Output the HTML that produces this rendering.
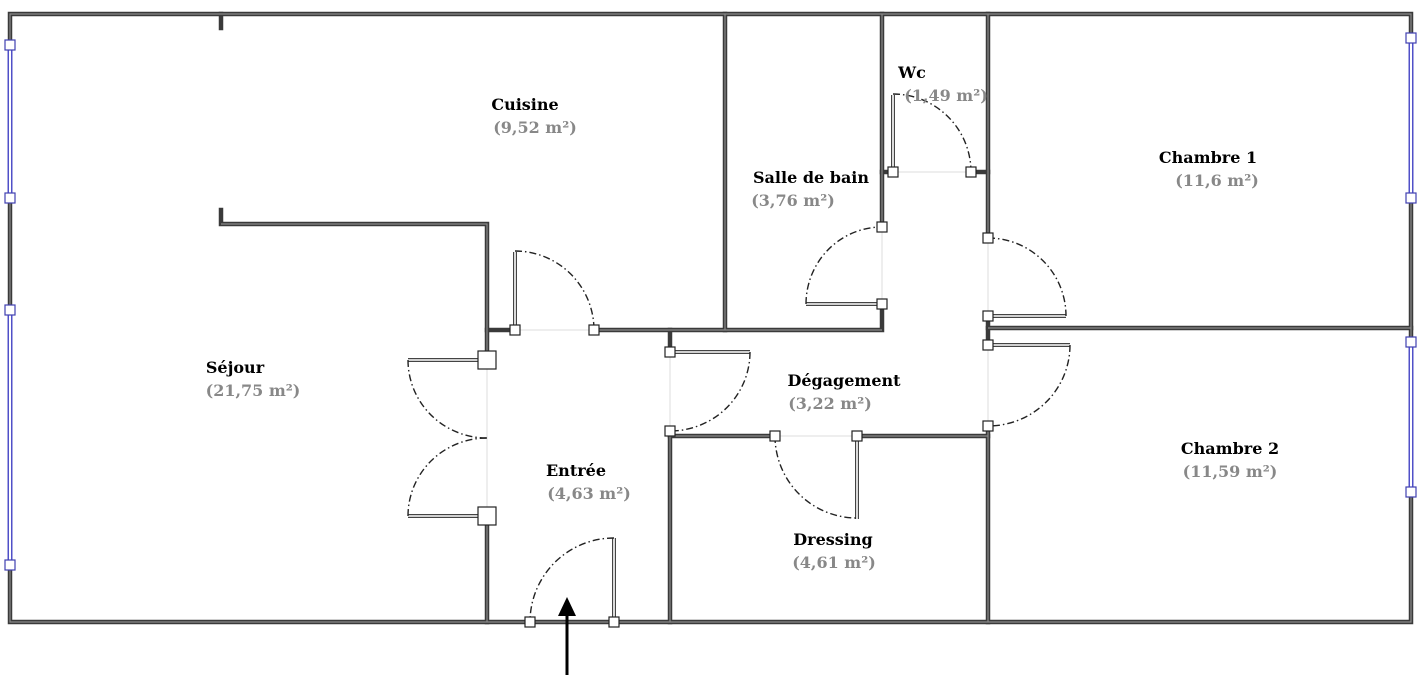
<!DOCTYPE html>
<html><head><meta charset="utf-8"><style>
html,body{margin:0;padding:0;background:#fff;}
svg{display:block;}
.w{stroke:#3a3a3a;stroke-width:4.5;fill:none;stroke-linecap:square;}
.wi{stroke:#8a8a8a;stroke-width:1.2;fill:none;}
.leaf{stroke:#444;stroke-width:4;fill:none;}
.leafi{stroke:#fff;stroke-width:1.6;fill:none;}
.arc{stroke:#222;stroke-width:1.4;fill:none;stroke-dasharray:7 3 1.5 3;}
.op{stroke:#ddd;stroke-width:1;fill:none;}
.sq{fill:#fff;stroke:#222;stroke-width:1.2;}
.bsq{fill:#fff;stroke:#4040b0;stroke-width:1.2;}
.win{stroke:#5050c8;stroke-width:5;fill:none;}
.wini{stroke:#fff;stroke-width:2;fill:none;}
text{font-family:"DejaVu Serif","Liberation Serif",serif;font-weight:bold;font-size:16px;text-anchor:middle;}
.a{fill:#888;}
</style></head><body>
<svg width="1426" height="678" viewBox="0 0 1426 678" xmlns="http://www.w3.org/2000/svg">
<g class="op">
<line x1="515" y1="330" x2="594" y2="330"/>
<line x1="487" y1="360" x2="487" y2="516"/>
<line x1="670" y1="352" x2="670" y2="431"/>
<line x1="775" y1="436" x2="857" y2="436"/>
<line x1="882" y1="227" x2="882" y2="304"/>
<line x1="893" y1="172" x2="971" y2="172"/>
<line x1="988" y1="238" x2="988" y2="426"/>
<line x1="530" y1="622" x2="614" y2="622"/>
</g>
<g id="walls">
<path class="w" d="M10 14 H1411 V622 H10 Z"/>
<path class="w" d="M221 14 V28"/>
<path class="w" d="M221 210 V224 H487 V360"/>
<path class="w" d="M487 516 V622"/>
<path class="w" d="M487 330 H515"/>
<path class="w" d="M594 330 H882 V304"/>
<path class="w" d="M725 14 V330"/>
<path class="w" d="M882 14 V227"/>
<path class="w" d="M670 330 V352"/>
<path class="w" d="M670 431 V622"/>
<path class="w" d="M670 436 H775"/>
<path class="w" d="M857 436 H988"/>
<path class="w" d="M882 172 H893"/>
<path class="w" d="M971 172 H988"/>
<path class="w" d="M988 14 V238"/>
<path class="w" d="M988 316 V345"/>
<path class="w" d="M988 328 H1411"/>
<path class="w" d="M988 426 V622"/>
</g>
<g class="wi">
<path d="M10 14 H1411 V622 H10 Z"/>
<path d="M221 224 H487 V360"/><path d="M594 330 H882"/><path d="M725 14 V330"/><path d="M882 14 V227"/>
<path d="M988 14 V238"/><path d="M988 328 H1411"/><path d="M988 426 V622"/><path d="M670 431 V622"/><path d="M857 436 H988"/><path d="M670 436 H775"/><path d="M487 516 V622"/>
</g>
<g>
<path class="win" d="M10 45 V198 M10 310 V565 M1411 38 V198 M1411 342 V492"/>
<path class="wini" d="M10 45 V198 M10 310 V565 M1411 38 V198 M1411 342 V492"/>
</g>
<g>
<path class="leaf" d="M515 252 V330 M408 360 H487 M408 516 H487 M670 352 H750 M857 436 V519 M806 304 H882 M893 95 V172 M988 316 H1066 M988 345 H1070 M614 538 V622"/>
<path class="leafi" d="M515 252 V330 M408 360 H487 M408 516 H487 M670 352 H750 M857 436 V519 M806 304 H882 M893 95 V172 M988 316 H1066 M988 345 H1070 M614 538 V622"/>
</g>
<g class="arc">
<path d="M515 251 A79 79 0 0 1 594 330"/>
<path d="M408 360 A79 78 0 0 0 487 438"/>
<path d="M408 516 A79 78 0 0 1 487 438"/>
<path d="M750 352 A80 79 0 0 1 670 431"/>
<path d="M775 436 A82 82 0 0 0 857 518"/>
<path d="M806 304 A76 77 0 0 1 882 227"/>
<path d="M893 94 A78 78 0 0 1 971 172"/>
<path d="M988 238 A78 78 0 0 1 1066 316"/>
<path d="M1070 345 A82 81 0 0 1 988 426"/>
<path d="M614 538 A84 84 0 0 0 530 622"/>
</g>
<g class="sq">
<rect x="510" y="325" width="10" height="10"/><rect x="589" y="325" width="10" height="10"/>
<rect x="478" y="351" width="18" height="18"/><rect x="478" y="507" width="18" height="18"/>
<rect x="665" y="347" width="10" height="10"/><rect x="665" y="426" width="10" height="10"/>
<rect x="770" y="431" width="10" height="10"/><rect x="852" y="431" width="10" height="10"/>
<rect x="877" y="222" width="10" height="10"/><rect x="877" y="299" width="10" height="10"/>
<rect x="888" y="167" width="10" height="10"/><rect x="966" y="167" width="10" height="10"/>
<rect x="983" y="233" width="10" height="10"/><rect x="983" y="311" width="10" height="10"/>
<rect x="983" y="340" width="10" height="10"/><rect x="983" y="421" width="10" height="10"/>
<rect x="525" y="617" width="10" height="10"/><rect x="609" y="617" width="10" height="10"/>
</g>
<g class="bsq">
<rect x="5" y="40" width="10" height="10"/><rect x="5" y="193" width="10" height="10"/>
<rect x="5" y="305" width="10" height="10"/><rect x="5" y="560" width="10" height="10"/>
<rect x="1406" y="33" width="10" height="10"/><rect x="1406" y="193" width="10" height="10"/>
<rect x="1406" y="337" width="10" height="10"/><rect x="1406" y="487" width="10" height="10"/>
</g>
<line x1="567" y1="675" x2="567" y2="612" stroke="#000" stroke-width="3"/>
<polygon points="567,597 558,616 576,616" fill="#000"/>
<text x="525" y="110">Cuisine</text><text class="a" x="535" y="133">(9,52 m²)</text>
<text x="235" y="373">Séjour</text><text class="a" x="253" y="396">(21,75 m²)</text>
<text x="576" y="476">Entrée</text><text class="a" x="589" y="499">(4,63 m²)</text>
<text x="811" y="183">Salle de bain</text><text class="a" x="793" y="206">(3,76 m²)</text>
<text x="912" y="78">Wc</text><text class="a" x="946" y="101">(1,49 m²)</text>
<text x="1208" y="163">Chambre 1</text><text class="a" x="1217" y="186">(11,6 m²)</text>
<text x="844" y="386">Dégagement</text><text class="a" x="830" y="409">(3,22 m²)</text>
<text x="1230" y="454">Chambre 2</text><text class="a" x="1230" y="477">(11,59 m²)</text>
<text x="833" y="545">Dressing</text><text class="a" x="834" y="568">(4,61 m²)</text>
</svg>
</body></html>
